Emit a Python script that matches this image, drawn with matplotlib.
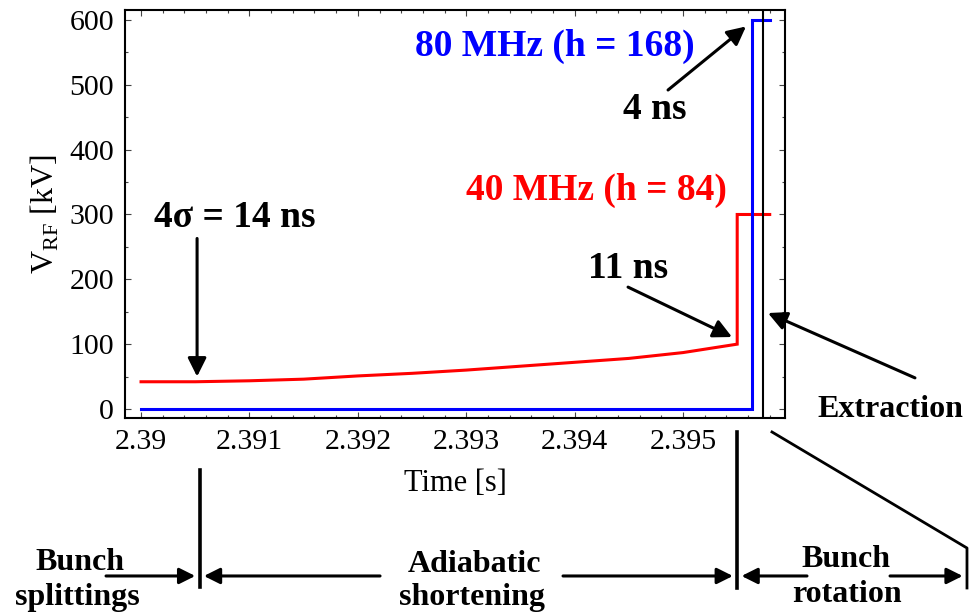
import numpy as np
import matplotlib
matplotlib.use("Agg")
import matplotlib.pyplot as plt
import matplotlib.transforms as mtransforms
from matplotlib.ticker import MultipleLocator, FuncFormatter

plt.rcParams['font.family'] = ['Liberation Serif', 'DejaVu Serif']
plt.rcParams['mathtext.fontset'] = 'custom'
plt.rcParams['mathtext.rm'] = 'Liberation Serif'

# RF voltage programme (time in s, voltage in kV)
t_40 = [2.39, 2.3905, 2.391, 2.3915, 2.392, 2.3925, 2.393, 2.3935, 2.394,
        2.3945, 2.395, 2.3955, 2.3955, 2.3958]
v_40 = [42, 42, 43.5, 46, 51, 55, 60, 66, 72, 78, 87, 100, 300, 300]

t_80 = [2.39, 2.39564, 2.39564, 2.3958]
v_80 = [0, 0, 600, 600]

t_extraction = 2.39574

# phase boundaries drawn below the axis
phase_edges = [2.39054, 2.3955, 2.39762]

x_ticks = [2.39, 2.391, 2.392, 2.393, 2.394, 2.395]
y_ticks = [0, 100, 200, 300, 400, 500, 600]

fig = plt.figure(figsize=(9.72, 6.13), dpi=100)
ax = fig.add_axes([125 / 972, 195 / 613, 660 / 972, 408 / 613])

ax.plot(t_40, v_40, color='#ff0000', lw=2.2, solid_joinstyle='miter')
ax.plot(t_80, v_80, color='#0000ff', lw=2.2, solid_joinstyle='miter')
ax.axvline(t_extraction, color='black', lw=1.5)

ax.set_xlim(2.389852, 2.395941)
ax.set_ylim(-13.9, 615.4)
ax.set_xticks(x_ticks)
ax.set_yticks(y_ticks)
ax.xaxis.set_major_formatter(FuncFormatter(lambda v, p: '%g' % round(v, 4)))
ax.xaxis.set_minor_locator(MultipleLocator(0.0002))
ax.yaxis.set_minor_locator(MultipleLocator(50))
ax.tick_params(which='both', direction='in', top=True, right=True,
               labelsize=21.5, width=0.8, color='#444444')
ax.tick_params(which='major', length=4.5, pad=8)
ax.tick_params(which='minor', length=2.5)
for s in ax.spines.values():
    s.set_linewidth(1.5)

ax.set_xlabel('Time [s]', fontsize=22, labelpad=10)
ax.set_ylabel(r'V$_{\mathrm{RF}}$ [kV]', fontsize=23, labelpad=6)

bold = dict(fontweight='bold', fontsize=27, ha='center', va='center')
fig.text(0.571, 0.925, '80 MHz (h = 168)', color='#0000ff', **bold)
fig.text(0.614, 0.690, '40 MHz (h = 84)', color='#ff0000', **bold)
fig.text(0.674, 0.821, '4 ns', **bold)
fig.text(0.2410, 0.6444, '4σ = 14 ns', **bold)
fig.text(0.646, 0.5628, '11 ns', **bold)
fig.text(0.9156, 0.3312, 'Extraction', fontweight='bold', fontsize=23,
         ha='center', va='center')

arrow = dict(arrowstyle='-|>', lw=2.2, color='black', mutation_scale=28,
             shrinkA=0, shrinkB=0)
ax.annotate('', xy=(2.390517, 50), xytext=(2.390517, 263), arrowprops=arrow)
ax.annotate('', xy=(2.395581, 590), xytext=(2.394862, 492), arrowprops=arrow)
ax.annotate('', xy=(2.395452, 111), xytext=(2.394493, 188), arrowprops=arrow)
ax.annotate('', xy=(2.395784, 148), xytext=(2.39714, 48), arrowprops=arrow,
            annotation_clip=False)

# phase markers below the plot: x in data, y in figure fraction
bt = (ax.transData, fig.transFigure)
blend = mtransforms.blended_transform_factory(ax.transData, fig.transFigure)
line_kw = dict(color='black', lw=2.6, transform=blend, clip_on=False)
ax.plot([phase_edges[0]] * 2, [0.2333, 0.0424], **line_kw)
ax.plot([phase_edges[1]] * 2, [0.2953, 0.0408], **line_kw)
ax.plot([2.395821, phase_edges[2], phase_edges[2]], [0.2953, 0.1060, 0.0408],
        color='black', lw=2.0, transform=blend, clip_on=False)

gap = 0.00004
y_arr = 0.0604
arr2 = dict(arrowstyle='-|>', lw=2.2, color='black', mutation_scale=24,
            shrinkA=0, shrinkB=0)
pairs = [(2.389677, phase_edges[0] - gap), (2.392205, phase_edges[0] + gap),
         (2.393893, phase_edges[1] - gap), (2.396144, phase_edges[1] + gap),
         (2.39691, phase_edges[2] - gap)]
for tail, head in pairs:
    ax.annotate('', xy=(head, y_arr), xytext=(tail, y_arr), xycoords=bt,
                textcoords=bt, arrowprops=arr2, annotation_clip=False)

lab = dict(fontweight='bold', fontsize=23, ha='center', va='baseline')
fig.text(0.0823, 0.0701, 'Bunch', **lab)
fig.text(0.080, 0.0130, 'splittings', **lab)
fig.text(0.4877, 0.0669, 'Adiabatic', **lab)
fig.text(0.4856, 0.0130, 'shortening', **lab)
fig.text(0.870, 0.0755, 'Bunch', **lab)
fig.text(0.871, 0.0184, 'rotation', **lab)

fig.savefig('out.png', dpi=100)
